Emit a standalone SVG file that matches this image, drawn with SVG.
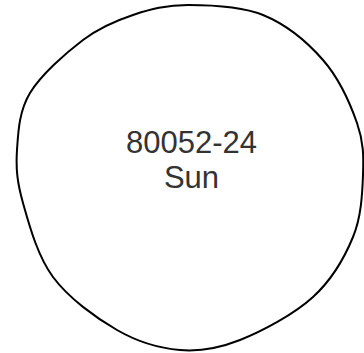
<svg xmlns="http://www.w3.org/2000/svg" width="364" height="353" viewBox="0 0 364 353">
<style>
.blob{fill:#ffffff;stroke:#000000;stroke-width:2}
.lbl{font-family:"Liberation Sans",Arial,sans-serif;font-size:31px;fill:#333333;text-anchor:middle}
</style>
<rect width="364" height="353" fill="#ffffff"/>
<g id="sun">
<path class="blob" d="M188,5 C209.7,5 240.5,5.8 263,15 C285.5,24.2 307.3,42 323,60 C338.7,78 350.3,103.8 357,123 C363.7,142.2 363.7,156 363,175 C362.3,194 361.3,216.7 353,237 C344.7,257.3 331.8,279.8 313,297 C294.2,314.2 262.2,331.2 240,340 C217.8,348.8 200.5,351.7 180,350 C159.5,348.3 138.2,342.2 117,330 C95.8,317.8 68.7,298.2 53,277 C37.3,255.8 29,224.2 23,203 C17,181.8 15.8,168.3 17,150 C18.2,131.7 19,111.3 30,93 C41,74.7 65.8,53 83,40 C100.2,27 115.5,20.8 133,15 C150.5,9.2 166.3,5 188,5 Z"/>
<text class="lbl" x="191.5" y="153">80052-24</text>
<text class="lbl" x="191.5" y="188">Sun</text>
</g>
<g id="connectors"/>
</svg>
